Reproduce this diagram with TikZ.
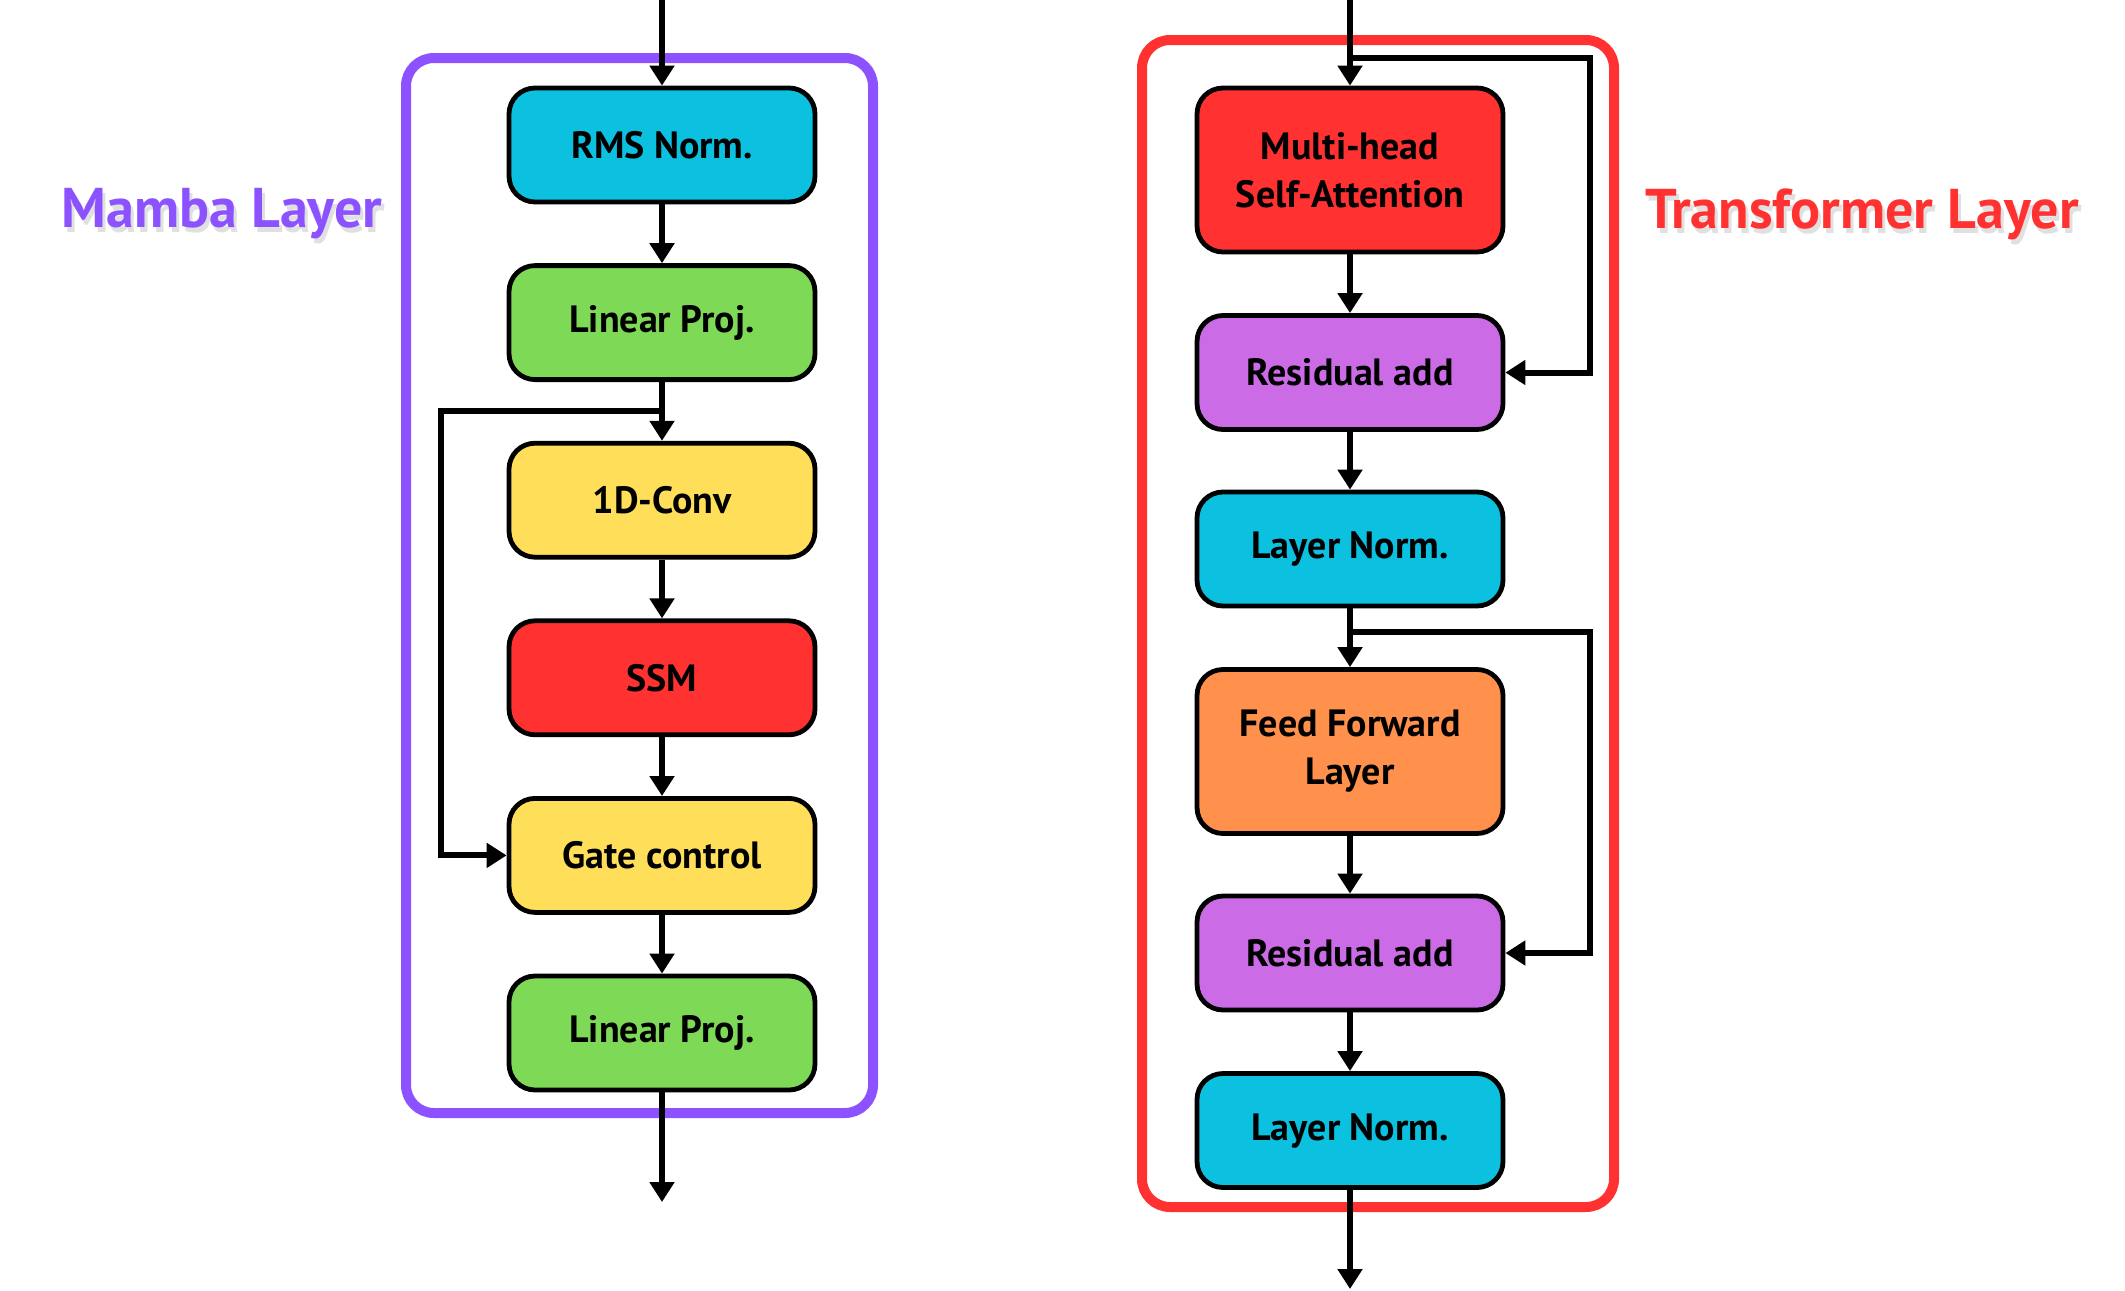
\documentclass[tikz,border=0pt]{standalone}
\usepackage{fontspec}
\setmainfont{PT Sans}
\usetikzlibrary{arrows.meta}
\definecolor{cyanN}{HTML}{0CC0DF}
\definecolor{greenN}{HTML}{7ED957}
\definecolor{yellowN}{HTML}{FFDE59}
\definecolor{redN}{HTML}{FF3131}
\definecolor{purpleN}{HTML}{CB6CE6}
\definecolor{orangeN}{HTML}{FF914D}
\definecolor{mambaC}{HTML}{8C52FF}
\begin{document}
\begin{tikzpicture}[x=0.5pt,y=-0.5pt,
  blk/.style={draw=black, line width=2.4pt, rounded corners=13pt, minimum width=153pt,
    minimum height=57pt, font=\fontsize{19}{24}\selectfont\bfseries, align=center, text=black},
  flow/.style={line width=3pt, -{Triangle[width=12pt,length=10pt]}},
  cont/.style={line width=5pt, rounded corners=14pt},
  lbl/.style={font=\fontsize{28}{32}\selectfont\bfseries},
  shad/.style={lbl, text=black, opacity=0.12}]
\useasboundingbox (0,0) rectangle (2125,1290);
% containers
\draw[cont, draw=mambaC] (406,58) rectangle (873,1113);
\draw[cont, draw=redN] (1142,40) rectangle (1614,1207);
% labels
\node[shad] at (225,219) {Mamba Layer};
\node[lbl, text=mambaC] (mlab) at (222,214) {Mamba Layer};
\node[shad] at (1865,219) {Transformer Layer};
\node[lbl, text=redN] (tlab) at (1862,214) {Transformer Layer};
% Mamba nodes
\node[blk, fill=cyanN] (rms) at (662,145) {RMS Norm.};
\node[blk, fill=greenN] (lp1) at (662,322.6) {Linear Proj.};
\node[blk, fill=yellowN] (conv) at (662,500.2) {1D-Conv};
\node[blk, fill=redN] (ssm) at (662,677.8) {SSM};
\node[blk, fill=yellowN] (gate) at (662,855.4) {Gate control};
\node[blk, fill=greenN] (lp2) at (662,1033) {Linear Proj.};
% Transformer nodes
\node[blk, fill=redN, minimum height=82pt] (mhsa) at (1350,170) {Multi-head\\Self-Attention};
\node[blk, fill=purpleN] (res1) at (1350,372.5) {Residual add};
\node[blk, fill=cyanN] (ln1) at (1350,549) {Layer Norm.};
\node[blk, fill=orangeN, minimum height=82pt] (ff) at (1350,751.5) {Feed Forward\\Layer};
\node[blk, fill=purpleN] (res2) at (1350,953) {Residual add};
\node[blk, fill=cyanN] (ln2) at (1350,1130.5) {Layer Norm.};
% coordinates
\coordinate (min) at (662,0);
\coordinate (mout) at (662,1202);
\coordinate (s3) at (662,411);
\coordinate (l3) at (441,411);
\coordinate (tin) at (1350,0);
\coordinate (tout) at (1350,1289);
\coordinate (s1) at (1350,58);
\coordinate (r1) at (1590,58);
\coordinate (s2) at (1350,632);
\coordinate (r2) at (1590,632);
% Mamba arrows
\draw[flow] (min) -- (rms);
\draw[flow] (rms) -- (lp1);
\draw[flow] (lp1) -- (conv);
\draw[flow] (conv) -- (ssm);
\draw[flow] (ssm) -- (gate);
\draw[flow] (gate) -- (lp2);
\draw[flow] (lp2) -- (mout);
\draw[flow] (s3) -- (l3) |- (gate.west);
% Transformer arrows
\draw[flow] (tin) -- (mhsa);
\draw[flow] (mhsa) -- (res1);
\draw[flow] (res1) -- (ln1);
\draw[flow] (ln1) -- (ff);
\draw[flow] (ff) -- (res2);
\draw[flow] (res2) -- (ln2);
\draw[flow] (ln2) -- (tout);
\draw[flow] (s1) -- (r1) |- (res1.east);
\draw[flow] (s2) -- (r2) |- (res2.east);
\end{tikzpicture}
\end{document}
